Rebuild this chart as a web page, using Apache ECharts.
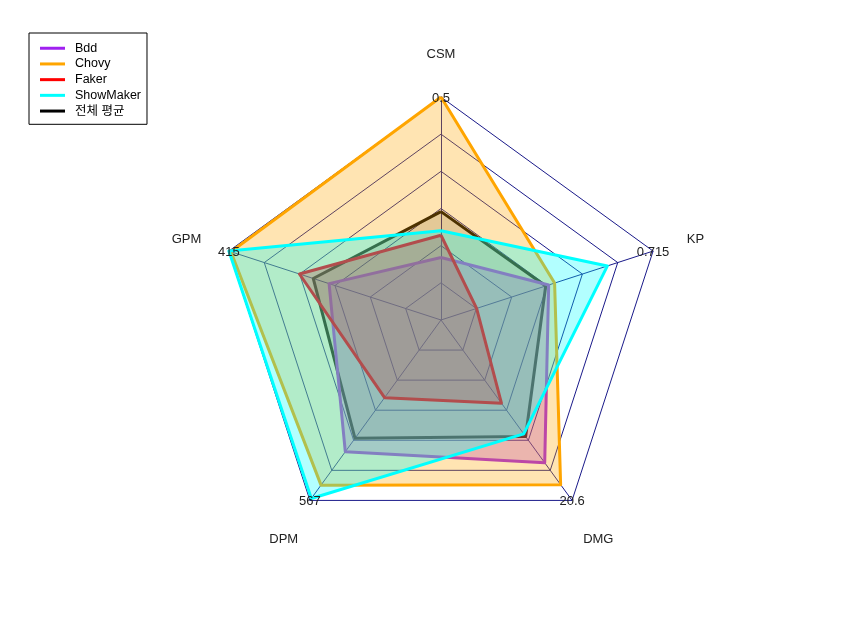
<!DOCTYPE html>
<html>
<head>
<meta charset="utf-8">
<script src="https://cdn.jsdelivr.net/npm/echarts@6/dist/echarts.min.js"></script>
<style>
  html, body { margin: 0; padding: 0; background: #ffffff; }
  #chart { width: 850px; height: 635px; }
</style>
</head>
<body>
<div id="chart"></div>
<script>
// ---- data ----
const indicators = ['CSM', 'GPM', 'DPM', 'DMG', 'KP'];
const maxValues = [0.5, 415, 567, 20.6, 0.715];
const minValues = [0, 0, 0, 0, 0];
const maxLabels = ['0.5', '415', '567', '20.6', '0.715'];

const seriesNames = ['Bdd', 'Chovy', 'Faker', 'ShowMaker', '전체 평균'];
const bdd       = [0.14, 219, 414, 16.3, 0.363];
const chovy     = [0.50, 411, 519, 18.8, 0.383];
const faker     = [0.19, 277, 244, 9.5, 0.120];
const showmaker = [0.20, 415, 561, 13.0, 0.561];
const average   = [0.243, 250, 372, 13.3, 0.353];

// ---- layout / style ----
const FONT = "'Liberation Sans', Arial, 'Noto Sans CJK KR', sans-serif";
const CX = 441, CY = 320, R = 223;
const colors = {
  'Bdd': '#A020F0', 'Chovy': '#FFA500', 'Faker': '#FF0000',
  'ShowMaker': '#00FFFF', '전체 평균': '#000000'
};
const fillAlpha = { 'Bdd': 0.3, 'Chovy': 0.3, 'Faker': 0.3, 'ShowMaker': 0.3, '전체 평균': 0.15 };

const chart = echarts.init(document.getElementById('chart'), null, { renderer: 'canvas' });

function mk(name, values) {
  return {
    type: 'radar',
    name: name,
    symbol: 'none',
    color: colors[name],
    lineStyle: { color: colors[name], width: 3 },
    areaStyle: { color: colors[name], opacity: fillAlpha[name] },
    itemStyle: { color: colors[name] },
    emphasis: { disabled: true },
    data: [{ value: values, name: name }]
  };
}

// axis-name text positions derived from radar geometry (1.2 x radius, like fmsb)
const nameGraphics = indicators.map(function (n, i) {
  const a = (90 + i * 360 / indicators.length) * Math.PI / 180;
  return {
    type: 'text',
    x: CX + 1.2 * R * Math.cos(a),
    y: CY - 1.2 * R * Math.sin(a) + 2.5,
    style: {
      text: n, fill: '#222', font: '13px ' + FONT,
      textAlign: 'center', textVerticalAlign: 'middle'
    },
    z: 10
  };
});

const option = {
  animation: false,
  backgroundColor: '#ffffff',
  textStyle: { fontFamily: FONT },
  legend: {
    data: seriesNames,
    orient: 'vertical',
    left: 29, top: 33,
    padding: [9, 6, 7, 11],
    itemGap: 3.2,
    borderColor: '#000', borderWidth: 1,
    icon: 'rect',
    itemWidth: 25, itemHeight: 3,
    textStyle: { color: '#000', fontSize: 12.5, fontFamily: FONT, padding: [0, 0, 0, 5] },
    selectedMode: false
  },
  radar: {
    center: [CX, CY],
    radius: R,
    startAngle: 90,
    splitNumber: 6,
    shape: 'polygon',
    axisName: { show: false },
    indicator: indicators.map(function (n, i) { return { name: n, min: minValues[i], max: maxValues[i] }; }),
    splitLine: { lineStyle: { color: '#1a1a8a', width: 1 } },
    splitArea: { show: false },
    axisLine: { lineStyle: { color: '#1a1a8a', width: 1 } },
    axisTick: { show: false },
    axisLabel: { show: false }
  },
  graphic: nameGraphics,
  series: [
    {
      type: 'radar',
      name: 'axis-max',
      symbol: 'circle',
      symbolSize: 2,
      itemStyle: { color: 'rgba(0,0,0,0)' },
      lineStyle: { width: 0, opacity: 0 },
      emphasis: { disabled: true },
      label: {
        show: true, position: 'inside', color: '#222', fontSize: 13, fontFamily: FONT,
        offset: [0, 1],
        formatter: function (p) {
          return maxLabels[p.dimensionIndex != null ? p.dimensionIndex : 0];
        }
      },
      data: [{ value: maxValues, name: 'axis-max' }]
    },
    mk('전체 평균', average),
    mk('Bdd', bdd),
    mk('Chovy', chovy),
    mk('Faker', faker),
    mk('ShowMaker', showmaker)
  ]
};
chart.setOption(option);
</script>
</body>
</html>
